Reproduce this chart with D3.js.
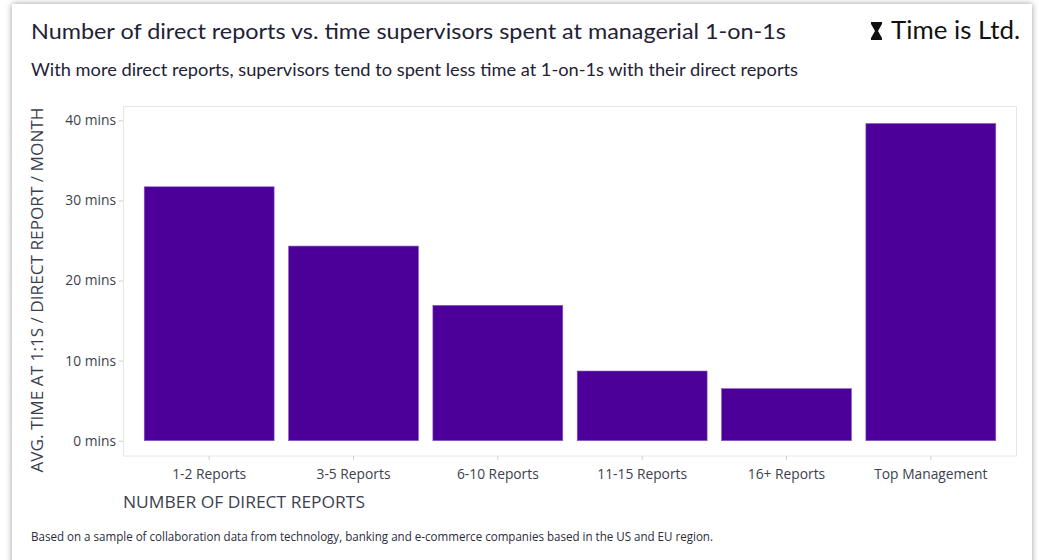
<!DOCTYPE html>
<html><head><meta charset="utf-8">
<script src="https://cdn.jsdelivr.net/npm/d3@7"></script>
<style>body{margin:0;background:#fff;}svg{display:block;}</style>
</head><body>
<svg id="c" width="1039" height="560"></svg>
<script>
const categories = ["1-2 Reports","3-5 Reports","6-10 Reports","11-15 Reports","16+ Reports","Top Management"];
const values = [31.7, 24.3, 16.9, 8.7, 6.5, 39.6];
const yTicks = [0, 10, 20, 30, 40];

const svg = d3.select("#c");
const defs = svg.append("defs");
const f = defs.append("filter").attr("id","sh").attr("x","-5%").attr("y","-5%").attr("width","110%").attr("height","120%");
f.append("feDropShadow").attr("dx",0).attr("dy",0).attr("stdDeviation",3).attr("flood-color","#000").attr("flood-opacity",0.4);

svg.append("rect").attr("width",1039).attr("height",560).attr("fill","#fff");
svg.append("rect").attr("x",12).attr("y",4).attr("width",1020).attr("height",600).attr("fill","#fff").attr("filter","url(#sh)");

const title = "Number of direct reports vs. time supervisors spent at managerial 1-on-1s";
const subtitle = "With more direct reports, supervisors tend to spent less time at 1-on-1s with their direct reports";
svg.append("text").attr("x",31).attr("y",39).attr("font-family","Lato, sans-serif").attr("font-size",21.5)
  .attr("fill","#1f2236").attr("textLength",755).attr("lengthAdjust","spacingAndGlyphs").text(title);
svg.append("text").attr("x",31).attr("y",76).attr("font-family","Lato, sans-serif").attr("font-size",17)
  .attr("fill","#1f2236").attr("textLength",767).attr("lengthAdjust","spacingAndGlyphs").text(subtitle);

// logo
const lg = svg.append("g");
lg.append("path").attr("d","M871,22 L882,22 L882,24 L878,31 L882,38 L882,40 L871,40 L871,38 L875,31 L871,24 Z").attr("fill","#111");
lg.append("text").attr("x",891).attr("y",39).attr("font-family","Lato, sans-serif").attr("font-size",25)
  .attr("fill","#111").attr("textLength",129).attr("lengthAdjust","spacingAndGlyphs").text("Time is Ltd.");

const x = d3.scaleBand().domain(categories).range([137, 1003]).paddingInner(0.1).paddingOuter(0.05);
const y = d3.scaleLinear().domain([0, 40]).range([440.7, 120.3]);

// panel
svg.append("rect").attr("x",123.5).attr("y",106.5).attr("width",893).attr("height",349.5)
  .attr("fill","#fff").attr("stroke","#e6e6e6").attr("stroke-width",1);

svg.append("g").selectAll("rect").data(values).join("rect")
  .attr("x",(d,i)=>x(categories[i])).attr("width",x.bandwidth())
  .attr("y",d=>y(d)).attr("height",d=>y(0)-y(d))
  .attr("fill","#4c0099").attr("stroke","#8a5cc4").attr("stroke-width",0.6);

const yAxis = svg.append("g").attr("transform","translate(123,0)")
  .call(d3.axisLeft(y).tickValues(yTicks).tickSize(4).tickPadding(3).tickFormat(d=>d+" mins"));
yAxis.select(".domain").remove();
yAxis.selectAll("line").attr("stroke","#cfcfcf");
yAxis.selectAll("text").attr("font-family","'Open Sans', sans-serif").attr("font-size",13.8).attr("fill","#3d3f4e");

const xAxis = svg.append("g").attr("transform","translate(0,456)")
  .call(d3.axisBottom(x).tickSize(4).tickPadding(9));
xAxis.select(".domain").remove();
xAxis.selectAll("line").attr("stroke","#cfcfcf");
xAxis.selectAll("text").attr("font-family","'Open Sans', sans-serif").attr("font-size",13.8).attr("fill","#3d3f4e");

svg.append("text").attr("x",123).attr("y",508).attr("font-family","'Open Sans', sans-serif").attr("font-size",16.5)
  .attr("fill","#3d3f4e").attr("textLength",242).attr("lengthAdjust","spacingAndGlyphs").text("NUMBER OF DIRECT REPORTS");
svg.append("text").attr("transform","translate(43,290) rotate(-90)").attr("text-anchor","middle")
  .attr("font-family","'Open Sans', sans-serif").attr("font-size",16.5).attr("fill","#3d3f4e")
  .attr("textLength",365).attr("lengthAdjust","spacingAndGlyphs").text("AVG. TIME AT 1:1S / DIRECT REPORT / MONTH");

svg.append("text").attr("x",31).attr("y",541).attr("font-family","'Open Sans', sans-serif").attr("font-size",12)
  .attr("fill","#2a2c3a").attr("textLength",682).attr("lengthAdjust","spacingAndGlyphs")
  .text("Based on a sample of collaboration data from technology, banking and e-commerce companies based in the US and EU region.");
</script>
</body></html>
